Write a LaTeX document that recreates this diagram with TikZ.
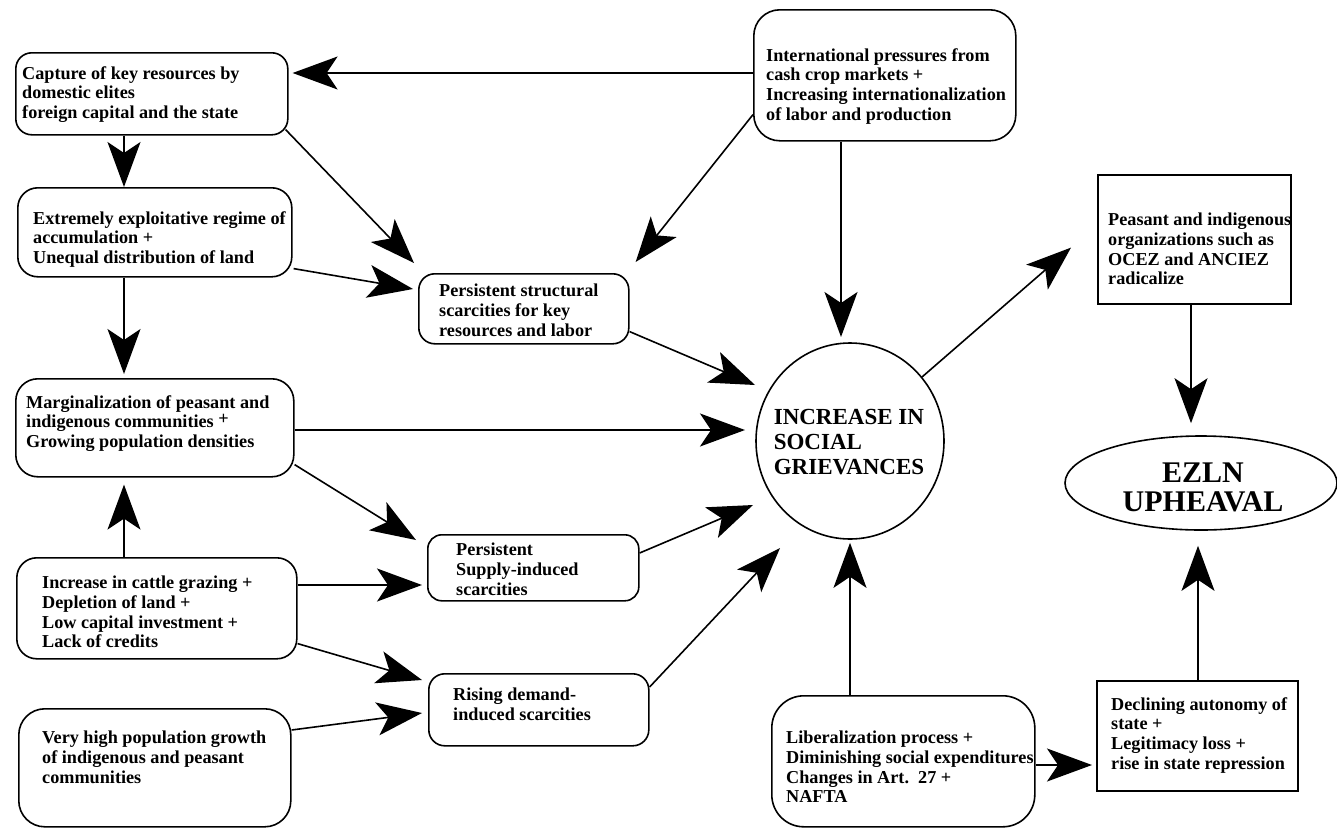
\documentclass[tikz,border=0pt]{standalone}
\usepackage{fontspec}
\setmainfont{Liberation Serif}
\usetikzlibrary{arrows.meta,shapes.geometric,calc}
\newcommand\boxfont{\fontsize{18.2}{19.7}\selectfont\bfseries}
\begin{document}
\begin{tikzpicture}[x=1pt,y=-1pt,
  rbox/.style={draw, line width=1.6pt, rounded corners=#1, inner sep=0pt, anchor=north west},
  rbox/.default=18pt,
  sbox/.style={draw, line width=1.6pt, inner sep=0pt, anchor=north west},
  oval/.style={draw, line width=1.6pt, ellipse, inner sep=0pt},
  txt/.style={anchor=north west, align=left, inner sep=0pt, font=\boxfont},
  arr/.style={line width=1.6pt, -{Stealth[length=45pt,width=33pt,inset=11pt]}}]
\useasboundingbox (0,0) rectangle (1337,827);
% boxes
\node[rbox=16pt, minimum width=272pt, minimum height=82pt] (cap) at (15,52) {};
\node[rbox=26pt, minimum width=262pt, minimum height=131pt] (intl) at (753,9) {};
\node[rbox=20pt, minimum width=274pt, minimum height=89pt] (ext) at (17,187) {};
\node[rbox=16pt, minimum width=210pt, minimum height=70pt] (pss) at (418,273) {};
\node[rbox=22pt, minimum width=278pt, minimum height=98pt] (mar) at (15,378) {};
\node[rbox=14pt, minimum width=211pt, minimum height=66pt] (sup) at (427,534) {};
\node[rbox=20pt, minimum width=280pt, minimum height=101pt] (cat) at (16,557) {};
\node[rbox=16pt, minimum width=220pt, minimum height=72pt] (ris) at (428,673) {};
\node[rbox=26pt, minimum width=272pt, minimum height=118pt] (vhp) at (18,708) {};
\node[rbox=32pt, minimum width=263pt, minimum height=131pt] (lib) at (771,695) {};
\node[sbox, minimum width=193pt, minimum height=129pt] (pea) at (1097,174) {};
\node[sbox, minimum width=201pt, minimum height=110pt] (dec) at (1096,680) {};
\node[oval, minimum width=188pt, minimum height=196pt] (gr) at (850,441) {};
\node[oval, minimum width=272pt, minimum height=94pt] (ez) at (1201,483) {};
% texts
\node[txt] (capT) at (22,66) {Capture of key resources by\\domestic elites\\foreign capital and the state};
\node[txt] (intlT) at (766,48) {International pressures from\\cash crop markets +\\Increasing internationalization\\of labor and production};
\node[txt] (extT) at (33,211) {Extremely exploitative regime of\\accumulation +\\Unequal distribution of land};
\node[txt] (pssT) at (439,284) {Persistent structural\\scarcities for key\\resources and labor};
\node[txt] (marT) at (26,395) {Marginalization of peasant and\\indigenous communities \raisebox{3pt}{+}\\Growing population densities};
\node[txt] (supT) at (456,543) {Persistent\\Supply-induced\\scarcities};
\node[txt] (catT) at (42,576) {Increase in cattle grazing +\\Depletion of land +\\Low capital investment +\\Lack of credits};
\node[txt] (risT) at (453,688) {Rising demand-\\induced scarcities};
\node[txt] (vhpT) at (42,731) {Very high population growth\\of indigenous and peasant\\communities};
\node[txt] (libT) at (786,731) {Liberalization process +\\Diminishing social expenditures\\Changes in Art.\ \ 27 +\\NAFTA};
\node[txt] (peaT) at (1108,213) {Peasant and indigenous\\organizations such as\\OCEZ and ANCIEZ\\radicalize};
\node[txt] (decT) at (1111,697) {Declining autonomy of\\state +\\Legitimacy loss +\\rise in state repression};
\node[align=left, inner sep=0pt, font=\fontsize{23}{25}\selectfont\bfseries] (grT) at (849,442) {INCREASE IN\\SOCIAL\\GRIEVANCES};
\node[align=center, inner sep=0pt, font=\fontsize{30}{29}\selectfont\bfseries] (ezT) at (1203,487) {EZLN\\UPHEAVAL};
% connectors
\draw[arr] ($(intl.north west)+(0,64)$) -- ($(cap.north east)+(4,21)$);
\draw[arr] ($(cap.south west)+(109,0)$) -- ($(ext.north west)+(107,0)$);
\draw[arr] ($(cap.south east)+(-3,-6)$) -- ($(pss.north west)+(-4,-10)$);
\draw[arr] ($(intl.south west)+(0,-27)$) -- ($(pss.north east)+(6,-11)$);
\draw[arr] ($(intl.south west)+(88,0)$) -- ($(gr.center)+(-9,-104)$);
\draw[arr] ($(ext.south east)+(1,-9)$) -- ($(pss.north west)+(-5,16)$);
\draw[arr] ($(ext.south west)+(107,0)$) -- ($(mar.north west)+(109,-4)$);
\draw[arr] ($(pss.south east)+(0,-13)$) -- ($(gr.center)+(-95,-56)$);
\draw[arr] ($(mar.north east)+(0,52)$) -- ($(gr.center)+(-105,-11)$);
\draw[arr] ($(mar.south east)+(0,-13)$) -- ($(sup.north west)+(-11,6)$);
\draw[arr] ($(cat.north west)+(108,0)$) -- ($(mar.south west)+(109,7)$);
\draw[arr] ($(cat.north east)+(0,28)$) -- ($(sup.north west)+(-5,51)$);
\draw[arr] ($(cat.south east)+(0,-16)$) -- ($(ris.north west)+(-6,7)$);
\draw[arr] ($(vhp.north east)+(0,22)$) -- ($(ris.north west)+(-6,40)$);
\draw[arr] ($(sup.north east)+(0,19)$) -- ($(gr.center)+(-97,64)$);
\draw[arr] ($(ris.north east)+(0,14)$) -- ($(gr.center)+(-70,107)$);
\draw[arr] ($(lib.north west)+(79,0)$) -- ($(gr.south)+(0,3)$);
\draw[arr] ($(gr.center)+(72,-64)$) -- ($(pea.south west)+(-26,-57)$);
\draw[arr] ($(pea.south west)+(94,0)$) -- ($(ez.north)+(-10,-12)$);
\draw[arr] ($(lib.north east)+(0,70)$) -- ($(dec.north west)+(-4,85)$);
\draw[arr] ($(dec.north west)+(102,0)$) -- ($(ez.south)+(-3,15)$);
\end{tikzpicture}
\end{document}
